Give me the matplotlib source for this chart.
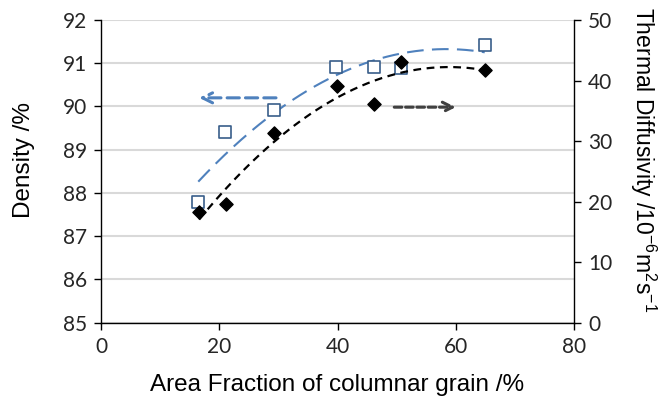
import numpy as np
import matplotlib
matplotlib.use("Agg")
import matplotlib.pyplot as plt

plt.rcParams["mathtext.fontset"] = "custom"
plt.rcParams["mathtext.rm"] = "Liberation Sans"
plt.rcParams["mathtext.it"] = "Liberation Sans:italic"
plt.rcParams["mathtext.bf"] = "Liberation Sans:bold"

# Data
area_density = [16.45, 20.96, 29.25, 39.8, 46.1, 50.7, 64.9]
density = [87.80, 89.40, 89.92, 90.91, 90.91, 90.90, 91.42]
area_td = [16.6, 21.1, 29.3, 39.9, 46.1, 50.8, 65.0]
thermal_diff = [18.3, 19.55, 31.3, 39.1, 36.1, 43.1, 41.7]

x_ticks = [0, 20, 40, 60, 80]
left_ticks = [85, 86, 87, 88, 89, 90, 91, 92]
right_ticks = [0, 10, 20, 30, 40, 50]

tick_font = "Lato"
label_font = "Liberation Sans"
AX_L, AX_B, AX_W, AX_H = 101, 322.7, 473, 302.7  # pixels

fig = plt.figure(figsize=(6.65, 3.97), dpi=100)
ax = fig.add_axes([AX_L / 665, 1 - AX_B / 397, AX_W / 665, AX_H / 397])
ax2 = ax.twinx()

ax.set_xlim(0, 80)
ax.set_ylim(85, 92)
ax2.set_ylim(0, 50)

ax.set_yticks(left_ticks)
ax.set_xticks(x_ticks)
ax2.set_yticks(right_ticks)
ax.yaxis.grid(True, color="#D9D9D9", linewidth=1.5)
ax.set_axisbelow(True)

for a in (ax, ax2):
    a.spines["top"].set_visible(False)
    for s in ("left", "right", "bottom"):
        a.spines[s].set_color("#000000")
        a.spines[s].set_linewidth(1.0)
ax.spines["right"].set_visible(False)
ax2.spines["left"].set_visible(False)
ax2.spines["bottom"].set_visible(False)

ax.tick_params(axis="both", direction="out", length=5, width=1, labelsize=15, pad=5)
ax2.tick_params(axis="y", direction="out", length=5, width=1, labelsize=15, pad=5)
for lab in ax.get_xticklabels() + ax.get_yticklabels() + ax2.get_yticklabels():
    lab.set_fontfamily(tick_font)
    lab.set_color("#262626")

# trend lines (2nd order polynomial)
c1 = np.polyfit(area_density, density, 2)
xs1 = np.linspace(min(area_density), max(area_density), 200)
ax.plot(xs1, np.polyval(c1, xs1), color="#4F81BD", lw=1.5, dashes=(8, 4), zorder=2)
c2 = np.polyfit(area_td, thermal_diff, 2)
xs2 = np.linspace(min(area_td), max(area_td), 200)
ax2.plot(xs2, np.polyval(c2, xs2), color="#000000", lw=1.6, dashes=(3.5, 2.5), zorder=2)

ax.scatter(area_density, density, marker="s", s=75, facecolor="white",
           edgecolor="#385D8A", linewidth=1.2, zorder=4)
ax2.scatter(area_td, thermal_diff, marker="D", s=45, color="black", zorder=4)

# arrows
ax.annotate("", xy=(16.6, 90.2), xytext=(29.6, 90.2),
            arrowprops=dict(arrowstyle="->", color="#4F81BD", lw=2.2, linestyle=(0, (4, 2)),
                            mutation_scale=18, shrinkA=0, shrinkB=0))
ax2.annotate("", xy=(60.0, 35.6), xytext=(49.6, 35.6),
             arrowprops=dict(arrowstyle="->", color="#404040", lw=2.2, linestyle=(0, (2.5, 1.2)),
                             mutation_scale=18, shrinkA=0, shrinkB=0))

ax.set_xlabel("Area Fraction of columnar grain /%", fontsize=17.5, family=label_font,
              color="#000000", va="center")
ax.xaxis.set_label_coords(0.5, (AX_B - 385) / AX_H)
ax.set_ylabel("Density /%", fontsize=17.5, family=label_font, color="#000000", va="center")
ax.yaxis.set_label_coords((24 - AX_L) / AX_W, (AX_B - 160) / AX_H)
ax2.set_ylabel("Thermal Diffusivity /10$^{\\mathregular{-6}}$m$^{\\mathregular{2}}$s$^{\\mathregular{-1}}$",
               fontsize=16.5, family=label_font, rotation=270, color="#000000", va="center")
ax2.yaxis.set_label_coords((643 - AX_L) / AX_W, (AX_B - 160) / AX_H)

fig.savefig("out.png", dpi=100)
